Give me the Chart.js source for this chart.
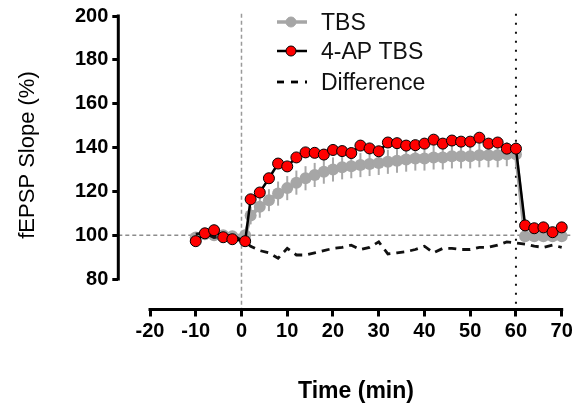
<!DOCTYPE html>
<html>
<head>
<meta charset="utf-8">
<script src="https://cdn.jsdelivr.net/npm/chart.js@4.4.0/dist/chart.umd.min.js"></script>
<style>
  html, body { margin: 0; padding: 0; background: #fff; }
  canvas { display: block; }
</style>
</head>
<body>
<canvas id="chart" width="580" height="409"></canvas>
<script>
// Time points (min)
const times = [-10, -8, -6, -4, -2, 0.8,
  2, 4, 6, 8, 10, 12, 14, 16, 18, 20, 22, 24, 26, 28, 30,
  32, 34, 36, 38, 40, 42, 44, 46, 48, 50, 52, 54, 56, 58, 60,
  62, 64, 66, 68, 70];

// TBS (grey) mean and SEM
const tbs = [99, 100.5, 100, 100, 99.5, 100,
  109, 113, 116, 119, 121.5, 124, 126, 127.5, 129, 130, 131, 131.5, 132, 132.5, 133,
  133.5, 134, 134.5, 135, 135, 135.5, 135.5, 136, 136, 136, 136.5, 136.5, 136.5, 137, 137,
  99.5, 99.5, 99.5, 99.5, 99.5];
const tbsSem = [2, 2, 2, 2, 2, 2,
  4, 5, 5, 5.5, 5.5, 5.5, 5.5, 5.5, 5.5, 5.5, 5.5, 5.5, 5.5, 5.5, 5.5,
  5.5, 5.5, 5.5, 5.5, 5.5, 5.5, 5.5, 5.5, 5.5, 5.5, 5.5, 5.5, 5.5, 5.5, 5.5,
  2.5, 2.5, 2.5, 2.5, 2.5];

// 4-AP TBS (red)
const apTbs = [97.3, 100.9, 102.3, 99.1, 98.2, 97.3,
  116.4, 119.5, 126, 132.7, 131.4, 135.5, 137.8, 137.6, 136.8, 138.9, 138.4, 137.5, 140.9, 139.6, 138.3,
  142.3, 142, 140.9, 141.1, 141.8, 143.6, 141.8, 143.2, 142.7, 142.7, 144.5, 141.8, 142.3, 139.5, 139.5,
  104.5, 103.2, 103.6, 101.4, 103.6];

// Difference (dashed)
const difference = [100.5, 101, 99, 99.5, 100, 97,
  95, 93, 92, 89.5, 94, 91, 91, 92, 93, 94, 94.5, 95.5, 93.5, 94.5, 97,
  91.5, 92, 92.5, 93.5, 95, 92, 94, 94, 93.5, 93.5, 94.5, 94.5, 95.5, 97, 96.5,
  96, 95, 94.5, 95.5, 94.5];

const xTicks = [-20, -10, 0, 10, 20, 30, 40, 50, 60, 70];
const yTicks = [80, 100, 120, 140, 160, 180, 200];

// Axis ranges (offset axes like the original graph)
const xMin = -26.93, xMax = 70;
const yMin = 66.14, yMax = 200;
const refTop = 201;

const FONT = '"Liberation Sans", Arial, Helvetica, sans-serif';
Chart.defaults.font.family = FONT;
Chart.defaults.color = '#000';

function toPoints(xs, ys) {
  return xs.map((x, i) => ({ x: x, y: ys[i] }));
}

// Error bars for TBS, drawn under the markers
const errorBars = {
  id: 'errorBars',
  beforeDatasetsDraw(chart) {
    const { ctx, scales: { x, y } } = chart;
    ctx.save();
    ctx.strokeStyle = '#a8a8a8';
    ctx.lineWidth = 2;
    times.forEach((t, i) => {
      const px = x.getPixelForValue(t);
      ctx.beginPath();
      ctx.moveTo(px, y.getPixelForValue(tbs[i] + tbsSem[i]));
      ctx.lineTo(px, y.getPixelForValue(tbs[i] - tbsSem[i]));
      ctx.stroke();
    });
    ctx.restore();
  }
};

// Axis lines, titles and legend
const decorations = {
  id: 'decorations',
  afterDraw(chart) {
    const { ctx, chartArea, scales: { x, y } } = chart;
    ctx.save();
    ctx.strokeStyle = '#000';
    ctx.lineWidth = 3;
    ctx.beginPath();
    ctx.moveTo(chartArea.left, y.getPixelForValue(yTicks[yTicks.length - 1]) - 1.5);
    ctx.lineTo(chartArea.left, y.getPixelForValue(yTicks[0]) + 1.5);
    ctx.moveTo(x.getPixelForValue(xTicks[0]) - 1.5, chartArea.bottom);
    ctx.lineTo(x.getPixelForValue(xTicks[xTicks.length - 1]) + 1.5, chartArea.bottom);
    ctx.stroke();

    // axis titles
    ctx.fillStyle = '#000';
    ctx.textBaseline = 'alphabetic';
    ctx.textAlign = 'center';
    ctx.font = 'bold 23px ' + FONT;
    ctx.fillText('Time (min)', 356, 398);
    ctx.save();
    ctx.translate(34, 155);
    ctx.rotate(-Math.PI / 2);
    ctx.font = '22px ' + FONT;
    ctx.fillText('fEPSP Slope (%)', 0, 0);
    ctx.restore();

    // legend
    const items = [
      { label: 'TBS', line: '#a6a6a6', width: 3.5, dash: [], fill: '#a6a6a6', border: '#a6a6a6', ly: 22, ty: 30 },
      { label: '4-AP TBS', line: '#000', width: 2.5, dash: [], fill: '#ff0000', border: '#000', ly: 51, ty: 59 },
      { label: 'Difference', line: '#000', width: 2.8, dash: [7, 7], fill: null, border: null, ly: 82, ty: 90 }
    ];
    ctx.textAlign = 'left';
    ctx.font = '23px ' + FONT;
    items.forEach(item => {
      ctx.strokeStyle = item.line;
      ctx.lineWidth = item.width;
      ctx.setLineDash(item.dash);
      ctx.beginPath();
      ctx.moveTo(277, item.ly);
      ctx.lineTo(307, item.ly);
      ctx.stroke();
      ctx.setLineDash([]);
      if (item.fill) {
        ctx.beginPath();
        ctx.arc(291, item.ly, 5, 0, Math.PI * 2);
        ctx.fillStyle = item.fill;
        ctx.fill();
        ctx.lineWidth = 1;
        ctx.strokeStyle = item.border;
        ctx.stroke();
      }
      ctx.fillStyle = '#111';
      ctx.fillText(item.label, 321, item.ty);
    });
    ctx.restore();
  }
};

const tickFont = { family: FONT, size: 20, weight: 'bold' };

new Chart(document.getElementById('chart'), {
  type: 'line',
  data: {
    datasets: [
      {
        label: '4-AP TBS',
        data: toPoints(times, apTbs),
        borderColor: '#000',
        borderWidth: 2.5,
        pointRadius: 5.5,
        pointBackgroundColor: '#ff0000',
        pointBorderColor: '#000',
        pointBorderWidth: 1,
        clip: false,
        order: 0
      },
      {
        label: 'Difference',
        data: toPoints(times, difference),
        borderColor: '#111',
        borderWidth: 2.8,
        borderDash: [8, 6],
        pointRadius: 0,
        clip: false,
        order: 1
      },
      {
        label: 'TBS',
        data: toPoints(times, tbs),
        borderColor: '#a6a6a6',
        borderWidth: 4,
        pointRadius: 6,
        pointBackgroundColor: '#a6a6a6',
        pointBorderColor: '#a6a6a6',
        pointBorderWidth: 0,
        clip: false,
        order: 2
      },
      {
        label: 'baseline',
        data: [{ x: xMin, y: 100 }, { x: 72.3, y: 100 }],
        borderColor: '#8c8c8c',
        borderWidth: 1.5,
        borderDash: [4, 3],
        pointRadius: 0,
        clip: false,
        order: 3
      },
      {
        label: 'start',
        data: [{ x: 0, y: refTop }, { x: 0, y: yMin }],
        borderColor: '#9a9a9a',
        borderWidth: 1.5,
        borderDash: [4, 3],
        pointRadius: 0,
        clip: false,
        order: 3
      },
      {
        label: 'end',
        data: [{ x: 60, y: refTop }, { x: 60, y: yMin }],
        borderColor: '#111',
        borderWidth: 2,
        borderDash: [2, 7],
        pointRadius: 0,
        clip: false,
        order: 3
      }
    ]
  },
  options: {
    responsive: false,
    animation: false,
    devicePixelRatio: 1,
    layout: { padding: { left: 0, right: 18.3, top: 15, bottom: 0 } },
    plugins: {
      legend: { display: false },
      tooltip: { enabled: false }
    },
    scales: {
      x: {
        type: 'linear',
        min: xMin,
        max: xMax,
        afterBuildTicks: s => { s.ticks = xTicks.map(v => ({ value: v })); },
        afterFit: s => { s.height = 99.5; },
        border: { display: false },
        grid: { drawOnChartArea: false, drawTicks: true, tickLength: 7, tickWidth: 3, tickColor: '#000' },
        ticks: { padding: 3, color: '#000', font: tickFont, maxRotation: 0, autoSkip: false }
      },
      y: {
        type: 'linear',
        min: yMin,
        max: yMax,
        afterBuildTicks: s => { s.ticks = yTicks.map(v => ({ value: v })); },
        afterFit: s => { s.width = 118.3; },
        border: { display: false },
        grid: { drawOnChartArea: false, drawTicks: true, tickLength: 6, tickWidth: 3, tickColor: '#000' },
        ticks: { padding: 4, color: '#000', font: tickFont }
      }
    }
  },
  plugins: [errorBars, decorations]
});
</script>
</body>
</html>
